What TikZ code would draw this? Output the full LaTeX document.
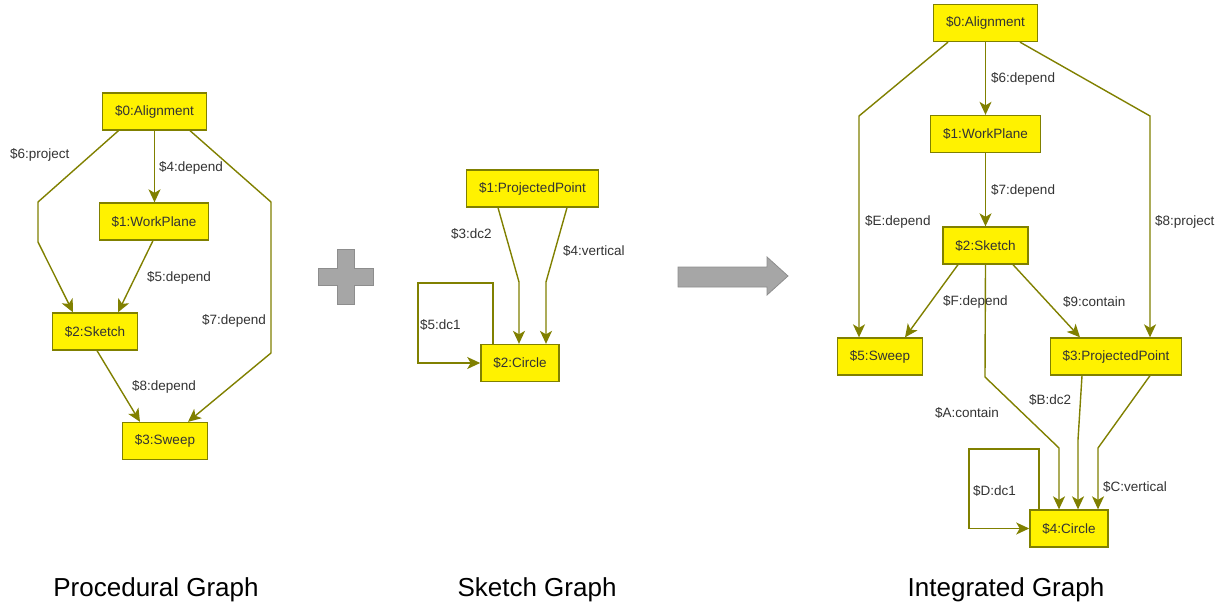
\documentclass[tikz,border=0pt]{standalone}
\usepackage{fontspec}
\setmainfont{Liberation Sans}
\usepackage{tikz}
\usetikzlibrary{positioning,calc,arrows.meta}
\definecolor{olivec}{RGB}{128,128,0}
\definecolor{labelc}{RGB}{51,51,51}
\definecolor{greyc}{RGB}{166,166,166}

\begin{document}
\begin{tikzpicture}[
            x=1pt, y=-1pt,
            gnode/.style={draw=olivec, fill=yellow, line width=1.3pt, font=\fontsize{13.5}{15}\selectfont, text=labelc, minimum height=37pt, inner xsep=12.5pt},
            edge/.style={draw=olivec, line width=1.4pt, -{Stealth[length=13pt, width=12pt, inset=3.5pt]}},
            elabel/.style={anchor=west, font=\fontsize{13.5}{15}\selectfont, text=labelc, inner sep=0pt},
            title/.style={font=\fontsize{26}{30}\selectfont, text=black},
            bigshape/.style={draw=greyc!85!black, fill=greyc, line width=0.8pt}
        ]
        \useasboundingbox (0,0) rectangle (1227,607);
        
        % Procedural Graph
        \node[gnode] (pAlign) at (154.5,111.5) {\$0:Alignment};
        \node[gnode] (pWork) at (154,221.5) {\$1:WorkPlane};
        \node[gnode] (pSketch) at (95,331.5) {\$2:Sketch};
        \node[gnode] (pSweep) at (165,441) {\$3:Sweep};
        
        \draw[edge] ([xshift=-36pt]pAlign.south) -- (38,202) -- (38,242) -- ([xshift=-22pt]pSketch.north);
        \draw[edge] (pAlign.south) -- (pAlign.south |- pWork.north);
        \draw[edge] ([xshift=35.5pt]pAlign.south) -- (271,202) -- (271,353) -- ([xshift=23pt]pSweep.north);
        \draw[edge] ([xshift=-1pt]pWork.south) -- ([xshift=23pt]pSketch.north);
        \draw[edge] ([xshift=2pt]pSketch.south) -- ([xshift=-25pt]pSweep.north);
        
        \node[elabel] (pl6) at (10,155) {\$6:project};
        \node[elabel] (pl4) at (159,168) {\$4:depend};
        \node[elabel] (pl7) at (202,321) {\$7:depend};
        \node[elabel] (pl5) at (147,278) {\$5:depend};
        \node[elabel] (pl8) at (132,387) {\$8:depend};
        
        % Plus sign
        \draw[bigshape] (337,249) -- (354,249) -- (354,268) -- (373,268) -- (373,285) -- (354,285)
            -- (354,304) -- (337,304) -- (337,285) -- (318,285) -- (318,268) -- (337,268) -- cycle;
        
        % Sketch Graph
        \node[gnode] (sPoint) at (532.5,188.5) {\$1:ProjectedPoint};
        \node[gnode] (sCircle) at (520,363) {\$2:Circle};
        
        \draw[edge] ([xshift=-34.5pt]sPoint.south) -- (519,282) -- ([xshift=-1pt]sCircle.north);
        \draw[edge] ([xshift=34.5pt]sPoint.south) -- (546,282) -- ([xshift=26pt]sCircle.north);
        \draw[edge] ([xshift=-27pt]sCircle.north) -- (493,283) -- (418,283) -- (418,363) -- (sCircle.west);
        
        \node[elabel] (sl3) at (451,234) {\$3:dc2};
        \node[elabel] (sl4) at (563,251) {\$4:vertical};
        \node[elabel] (sl5) at (420,325) {\$5:dc1};
        
        % Big arrow
        \draw[bigshape] (678,267) -- (767,267) -- (767,257) -- (788,276) -- (767,295) -- (767,287) -- (678,287) -- cycle;
        
        % Integrated Graph
        \node[gnode] (iAlign) at (985.5,23) {\$0:Alignment};
        \node[gnode] (iWork) at (985.5,134) {\$1:WorkPlane};
        \node[gnode] (iSketch) at (985.5,245.5) {\$2:Sketch};
        \node[gnode] (iSweep) at (880,356.5) {\$5:Sweep};
        \node[gnode] (iPoint) at (1116,356.5) {\$3:ProjectedPoint};
        \node[gnode] (iCircle) at (1069,528.5) {\$4:Circle};
        
        \draw[edge] (iAlign.south) -- (iWork.north);
        \draw[edge] (iWork.south) -- (iSketch.north);
        \draw[edge] ([xshift=-37.5pt]iAlign.south) -- (859,116) -- ([xshift=-21pt]iSweep.north);
        \draw[edge] ([xshift=34.5pt]iAlign.south) -- (1150,116) -- ([xshift=34pt]iPoint.north);
        \draw[edge] ([xshift=-27.5pt]iSketch.south) -- ([xshift=25pt]iSweep.north);
        \draw[edge] (iSketch.south) -- (985,377) -- (1059,448) -- ([xshift=-10pt]iCircle.north);
        \draw[edge] ([xshift=27.5pt]iSketch.south) -- ([xshift=-36pt]iPoint.north);
        \draw[edge] ([xshift=-34pt]iPoint.south) -- (1078,440) -- ([xshift=9pt]iCircle.north);
        \draw[edge] ([xshift=34pt]iPoint.south) -- (1098,448) -- ([xshift=29pt]iCircle.north);
        \draw[edge] ([xshift=-30pt]iCircle.north) -- (1039,449) -- (969,449) -- (969,528.5) -- (iCircle.west);
        
        \node[elabel] (il6) at (991,79) {\$6:depend};
        \node[elabel] (il7) at (991,191) {\$7:depend};
        \node[elabel] (ilE) at (865,222) {\$E:depend};
        \node[elabel] (il8) at (1155,222) {\$8:project};
        \node[elabel] (ilF) at (943,302) {\$F:depend};
        \node[elabel] (il9) at (1063,302) {\$9:contain};
        \node[elabel] (ilA) at (935,413) {\$A:contain};
        \node[elabel] (ilB) at (1029,400) {\$B:dc2};
        \node[elabel] (ilC) at (1103,487) {\$C:vertical};
        \node[elabel] (ilD) at (973,491) {\$D:dc1};
        
        % Titles
        \node[title] (tProc) at (156,590) {Procedural Graph};
        \node[title] (tSketch) at (537,590) {Sketch Graph};
        \node[title] (tInt) at (1006,590) {Integrated Graph};
        
        \end{tikzpicture}
\end{document}
